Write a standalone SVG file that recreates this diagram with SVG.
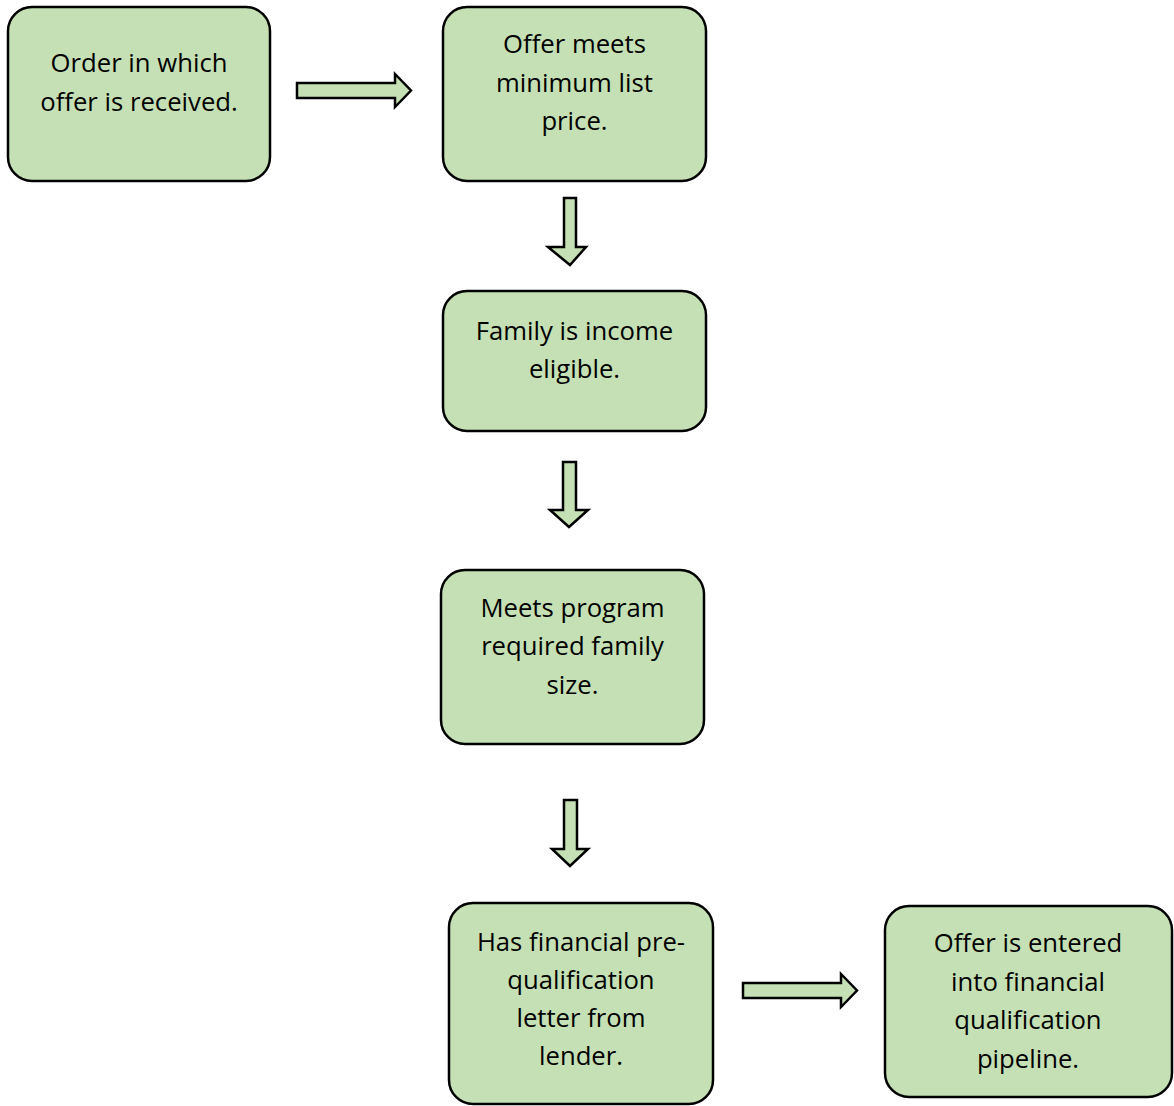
<svg xmlns="http://www.w3.org/2000/svg" width="1174" height="1106" viewBox="0 0 1174 1106">
<style>
.box{fill:#c5e0b4;stroke:#000;stroke-width:2.5}
.arr{fill:#c5e0b4;stroke:#000;stroke-width:2.5;stroke-linejoin:miter}
text{font-family:"Open Sans",Lato,"Liberation Sans",sans-serif;font-size:25.7px;fill:#000;text-anchor:middle;font-variant-ligatures:none}
</style>
<g id="n1"><rect class="box" x="8" y="7" width="262" height="174" rx="24"/>
<text x="139" y="72">Order in which</text><text x="139" y="111">offer is received.</text></g>
<g id="n2"><rect class="box" x="443" y="7" width="263" height="174" rx="24"/>
<text x="574.5" y="53">Offer meets</text><text x="574.5" y="92">minimum list</text><text x="574.5" y="130">price.</text></g>
<g id="n3"><rect class="box" x="443" y="291" width="263" height="140" rx="24"/>
<text x="574.5" y="340">Family is income</text><text x="574.5" y="378">eligible.</text></g>
<g id="n4"><rect class="box" x="441" y="570" width="263" height="174" rx="24"/>
<text x="572.5" y="617">Meets program</text><text x="572.5" y="655">required family</text><text x="572.5" y="694">size.</text></g>
<g id="n5"><rect class="box" x="449" y="903" width="264" height="201" rx="24"/>
<text x="581" y="951">Has financial pre-</text><text x="581" y="989">qualification</text><text x="581" y="1027">letter from</text><text x="581" y="1065">lender.</text></g>
<g id="n6"><rect class="box" x="885" y="906" width="287" height="191" rx="24"/>
<text x="1028" y="952">Offer is entered</text><text x="1028" y="991">into financial</text><text x="1028" y="1029">qualification</text><text x="1028" y="1068">pipeline.</text></g>
<g id="connectors">
<polygon class="arr" points="297,83 395,83 395,74 411,90.5 395,107 395,98 297,98"/>
<polygon class="arr" points="564,198 576,198 576,247 586,247 570,265 548,247 564,247"/>
<polygon class="arr" points="563,462 576,462 576,510 588,510 569,527 550,510 563,510"/>
<polygon class="arr" points="564,800 577,800 577,849 588,849 570,866 552,849 564,849"/>
<polygon class="arr" points="743,983 841,983 841,974 857,990.5 841,1007 841,998 743,998"/>
</g>
</svg>
